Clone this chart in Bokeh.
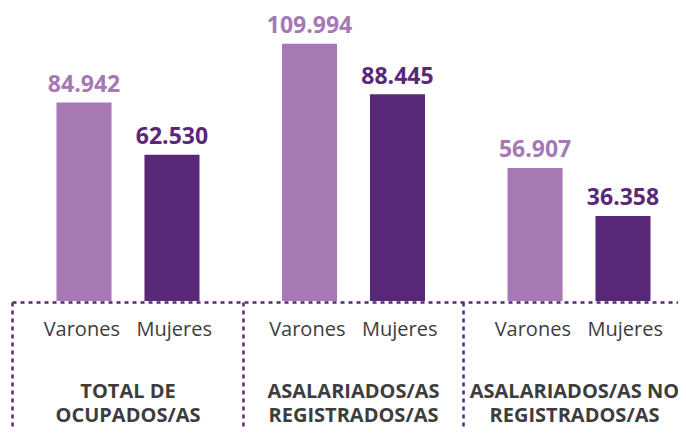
from bokeh.plotting import figure
from bokeh.models import Range1d, ColumnDataSource
from bokeh.core.properties import value
from bokeh.embed import file_html
from bokeh.resources import INLINE

# ---- data ----
categories = ["TOTAL DE\nOCUPADOS/AS", "ASALARIADOS/AS\nREGISTRADOS/AS", "ASALARIADOS/AS NO\nREGISTRADOS/AS"]
series_names = ["Varones", "Mujeres"]
varones = [84942, 109994, 56907]
mujeres = [62530, 88445, 36358]

# ---- style ----
C_LIGHT = "#a678b4"
C_DARK = "#5a2878"
C_TEXT = "#3d3d3d"
C_LINE = "#5a2878"
FONT = "Open Sans"

W, H = 678, 430
X0, X1 = -0.5654, 2.4412
Y0, Y1 = -55390, 128530
p = figure(width=W, height=H, output_backend="svg", toolbar_location=None,
           x_range=Range1d(X0, X1), y_range=Range1d(Y0, Y1),
           min_border=0, outline_line_color=None)
p.axis.visible = False
p.grid.visible = False
p.background_fill_color = "white"
p.border_fill_color = "white"

def fmt(v):
    return f"{v:,.0f}".replace(",", ".")

off = 0.195
bw = 0.244
xs = list(range(len(categories)))

for vals, sign, col, name in [(varones, -1, C_LIGHT, series_names[0]),
                              (mujeres, 1, C_DARK, series_names[1])]:
    src = ColumnDataSource(dict(x=[i + sign * off for i in xs], top=vals,
                                lab=[fmt(v) for v in vals]))
    p.vbar(x="x", top="top", bottom=0, width=bw, source=src,
           fill_color=col, line_color=None)
    p.text(x="x", y="top", text="lab", source=src, text_align="center",
           text_baseline="alphabetic", y_offset=-19, text_color=col,
           text_font=value(FONT), text_font_style="bold", text_font_size="23px")
    p.text(x=[i + sign * (off + 0.01) for i in xs], y=[-11760] * len(xs),
           text=[name] * len(xs),
           text_align="center", text_baseline="alphabetic", text_color=C_TEXT,
           text_font=value(FONT), text_font_size="20px")

label_shift = [0.0, 0.0, -0.02]
line1 = [c.split("\n")[0] for c in categories]
line2 = [c.split("\n")[1] for c in categories]
for lines, yy in [(line1, -38070), (line2, -48550)]:
    p.text(x=[i + s for i, s in zip(xs, label_shift)], y=[yy] * len(xs),
           text=lines, text_align="center",
           text_baseline="alphabetic", text_color=C_TEXT,
           text_font=value(FONT), text_font_style="bold", text_font_size="20px")

# dotted frame
seps = [-0.512, 0.512, 1.488]
y_line = -640
p.segment(x0=[seps[0]], y0=[y_line], x1=[X1], y1=[y_line],
          line_color=C_LINE, line_width=2.5, line_dash="4 4")
p.segment(x0=seps, y0=[y_line] * 3, x1=seps, y1=[Y0] * 3,
          line_color=C_LINE, line_width=2.5, line_dash="4 4")

open("out.html", "w").write(file_html(p, INLINE))
